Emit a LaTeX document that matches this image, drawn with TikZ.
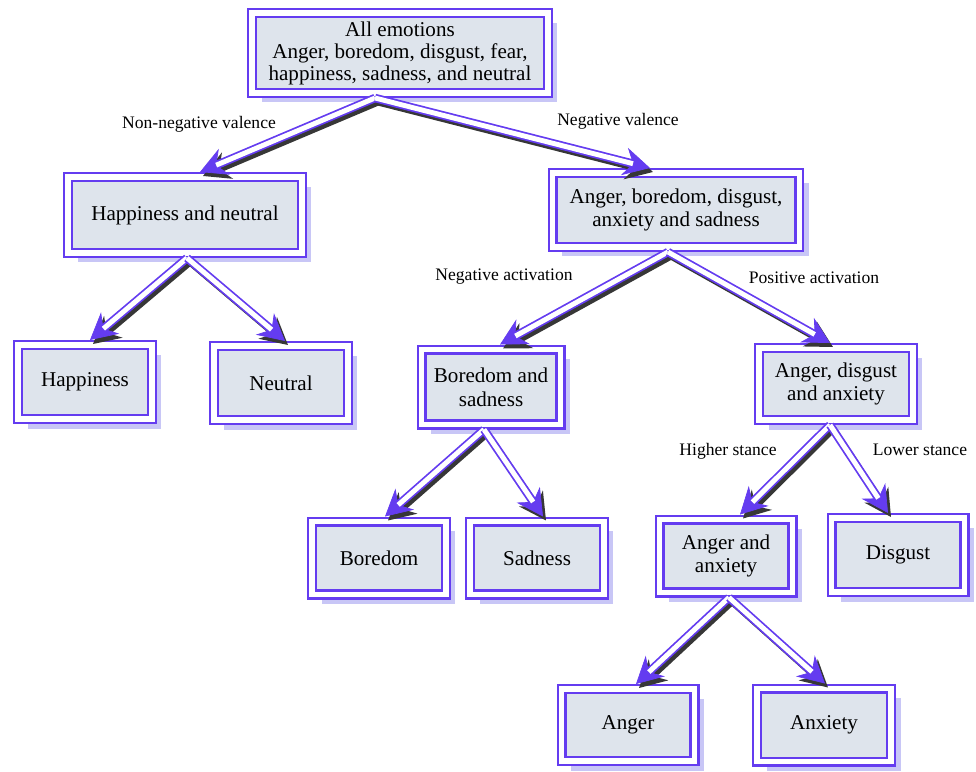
\documentclass[tikz,border=0pt]{standalone}
\usepackage{fontspec}
\setmainfont{Liberation Serif}
\usetikzlibrary{arrows.meta, shadows, calc}

\definecolor{boxline}{RGB}{100,60,240}
\definecolor{boxfill}{RGB}{222,228,236}
\definecolor{boxshade}{RGB}{200,198,246}
\definecolor{linkshade}{RGB}{55,55,55}

\tikzset{
  class/.style={draw=boxline, line width=1.2pt, double=white, double distance=3.3pt,
    fill=boxfill, outer sep=2.85pt, inner sep=0pt, align=center,
    font=\fontsize{12}{13.5}\selectfont,
    drop shadow={shadow xshift=0.19cm, shadow yshift=-0.19cm, fill=boxshade, opacity=1}},
  link/.style={draw=boxline, line width=1pt, double=white, double distance=2.8pt,
    shorten >=10pt},
  link tip/.style={draw=boxline, line width=0.4pt,
    -{Stealth[length=15pt, width=16pt, inset=5pt]}},
  link shade/.style={draw=linkshade, line width=4pt,
    -{Stealth[length=15pt, width=16pt, inset=5pt]},
    transform canvas={shift={(0.06cm,-0.08cm)}}},
  branch/.style={font=\fontsize{10}{12}\selectfont}
}

\begin{document}
\begin{tikzpicture}[x=0.02cm, y=-0.02cm]
  \useasboundingbox (0,0) rectangle (976,771);

  % Classes
  \node[class, minimum width=5.92cm, minimum height=1.6cm, font=\fontsize{12}{12.5}\selectfont] (root) at (400,53)
    {All emotions\\Anger, boredom, disgust, fear,\\happiness, sadness, and neutral};
  \node[class, minimum width=4.68cm, minimum height=1.52cm] (hn) at (185,215) {Happiness and neutral};
  \node[class, minimum width=4.94cm, minimum height=1.48cm] (neg) at (676,210)
    {Anger, boredom, disgust,\\anxiety and sadness};
  \node[class, minimum width=2.68cm, minimum height=1.48cm] (happiness) at (85,382) {Happiness};
  \node[class, minimum width=2.68cm, minimum height=1.48cm] (neutral) at (281,383) {Neutral};
  \node[class, minimum width=2.78cm, minimum height=1.5cm] (bs) at (491,387) {Boredom and\\sadness};
  \node[class, minimum width=3.08cm, minimum height=1.44cm] (ada) at (836,384) {Anger, disgust\\and anxiety};
  \node[class, minimum width=2.68cm, minimum height=1.46cm] (boredom) at (379,558) {Boredom};
  \node[class, minimum width=2.68cm, minimum height=1.46cm] (sadness) at (537,558) {Sadness};
  \node[class, minimum width=2.66cm, minimum height=1.46cm] (aa) at (726,556) {Anger and\\anxiety};
  \node[class, minimum width=2.66cm, minimum height=1.48cm] (disgust) at (898,555) {Disgust};
  \node[class, minimum width=2.66cm, minimum height=1.44cm] (anger) at (628,725) {Anger};
  \node[class, minimum width=2.68cm, minimum height=1.46cm] (anxiety) at (824,725) {Anxiety};

  % Forks
  \coordinate (rootfork) at ([xshift=-0.5cm]root.south);
  \coordinate (hnfork) at ([xshift=0.04cm]hn.south);
  \coordinate (negfork) at ([xshift=-0.16cm]neg.south);
  \coordinate (bsfork) at ([xshift=-0.14cm]bs.south);
  \coordinate (adafork) at ([xshift=-0.12cm]ada.south);
  \coordinate (aafork) at ([xshift=0.06cm]aa.south);

  % Links
  \foreach \s/\t/\e in {rootfork/hn/0.3, rootfork/neg/-0.52, hnfork/happiness/0.1,
      hnfork/neutral/0.08, negfork/bs/0.18, negfork/ada/-0.12, bsfork/boredom/0.12,
      bsfork/sadness/0.12, adafork/aa/0.28, adafork/disgust/-0.2,
      aafork/anger/0.16, aafork/anxiety/0.02} {
    \draw[link shade] (\s) -- ([xshift=\e cm]\t.north);
  }
  \foreach \s/\t/\e in {rootfork/hn/0.3, rootfork/neg/-0.52, hnfork/happiness/0.1,
      hnfork/neutral/0.08, negfork/bs/0.18, negfork/ada/-0.12, bsfork/boredom/0.12,
      bsfork/sadness/0.12, adafork/aa/0.28, adafork/disgust/-0.2,
      aafork/anger/0.16, aafork/anxiety/0.02} {
    \coordinate (end) at ([xshift=\e cm]\t.north);
    \draw[link tip] ($(end)!20pt!(\s)$) -- (end);
    \draw[link] (\s) -- (end);
  }

  % Branch labels
  \node[branch] (nonneglab) at (199,124) {Non-negative valence};
  \node[branch] (neglab) at (618,121) {Negative valence};
  \node[branch] (negactlab) at (504,277) {Negative activation};
  \node[branch] (posactlab) at (814,278) {Positive activation};
  \node[branch] (higherlab) at (728,451) {Higher stance};
  \node[branch] (lowerlab) at (920,450) {Lower stance};
\end{tikzpicture}
\end{document}
